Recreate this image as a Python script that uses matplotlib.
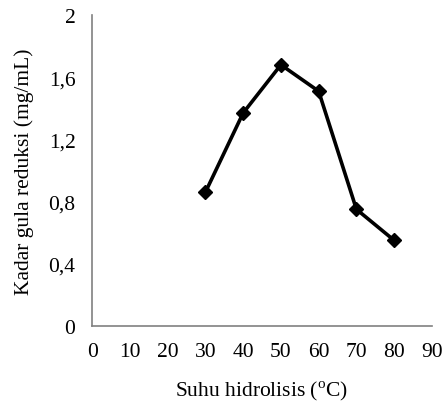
import matplotlib
matplotlib.use("Agg")
import matplotlib.pyplot as plt
from matplotlib.ticker import FuncFormatter

plt.rcParams['font.family'] = ['Liberation Serif', 'DejaVu Serif']
plt.rcParams['mathtext.fontset'] = 'custom'
plt.rcParams['mathtext.rm'] = 'Liberation Serif'

suhu = [30, 40, 50, 60, 70, 80]
kadar = [0.86, 1.37, 1.68, 1.51, 0.75, 0.55]
x_ticks = [0, 10, 20, 30, 40, 50, 60, 70, 80, 90]
y_ticks = [0, 0.4, 0.8, 1.2, 1.6, 2.0]

fig = plt.figure(figsize=(4.43, 4.02), dpi=100)
ax = fig.add_axes([0.208, 0.187, 0.767, 0.773])
ax.plot(suhu, kadar, color='black', linewidth=2.6, marker='D', markersize=7.5)
ax.set_xlim(0, 90)
ax.set_ylim(0, 2)
ax.set_xticks(x_ticks)
ax.set_yticks(y_ticks)

def fmt(v, pos):
    if abs(v) < 1e-9:
        return '0'
    if abs(v - round(v)) < 1e-9:
        return str(int(round(v)))
    return f'{v:.1f}'.replace('.', ',')

ax.yaxis.set_major_formatter(FuncFormatter(fmt))
ax.tick_params(length=0, labelsize=15.5)
ax.tick_params(axis='y', pad=12)
ax.tick_params(axis='x', pad=12)
for s in ['top', 'right']:
    ax.spines[s].set_visible(False)
for s in ['left', 'bottom']:
    ax.spines[s].set_color('#808080')
    ax.spines[s].set_linewidth(1.2)
ax.set_xlabel(r'Suhu hidrolisis ($^{\mathrm{o}}$C)', fontsize=15.5, labelpad=12)
ax.set_ylabel('Kadar gula reduksi (mg/mL)', fontsize=15.5, labelpad=10)
fig.savefig('out.png', dpi=100)
